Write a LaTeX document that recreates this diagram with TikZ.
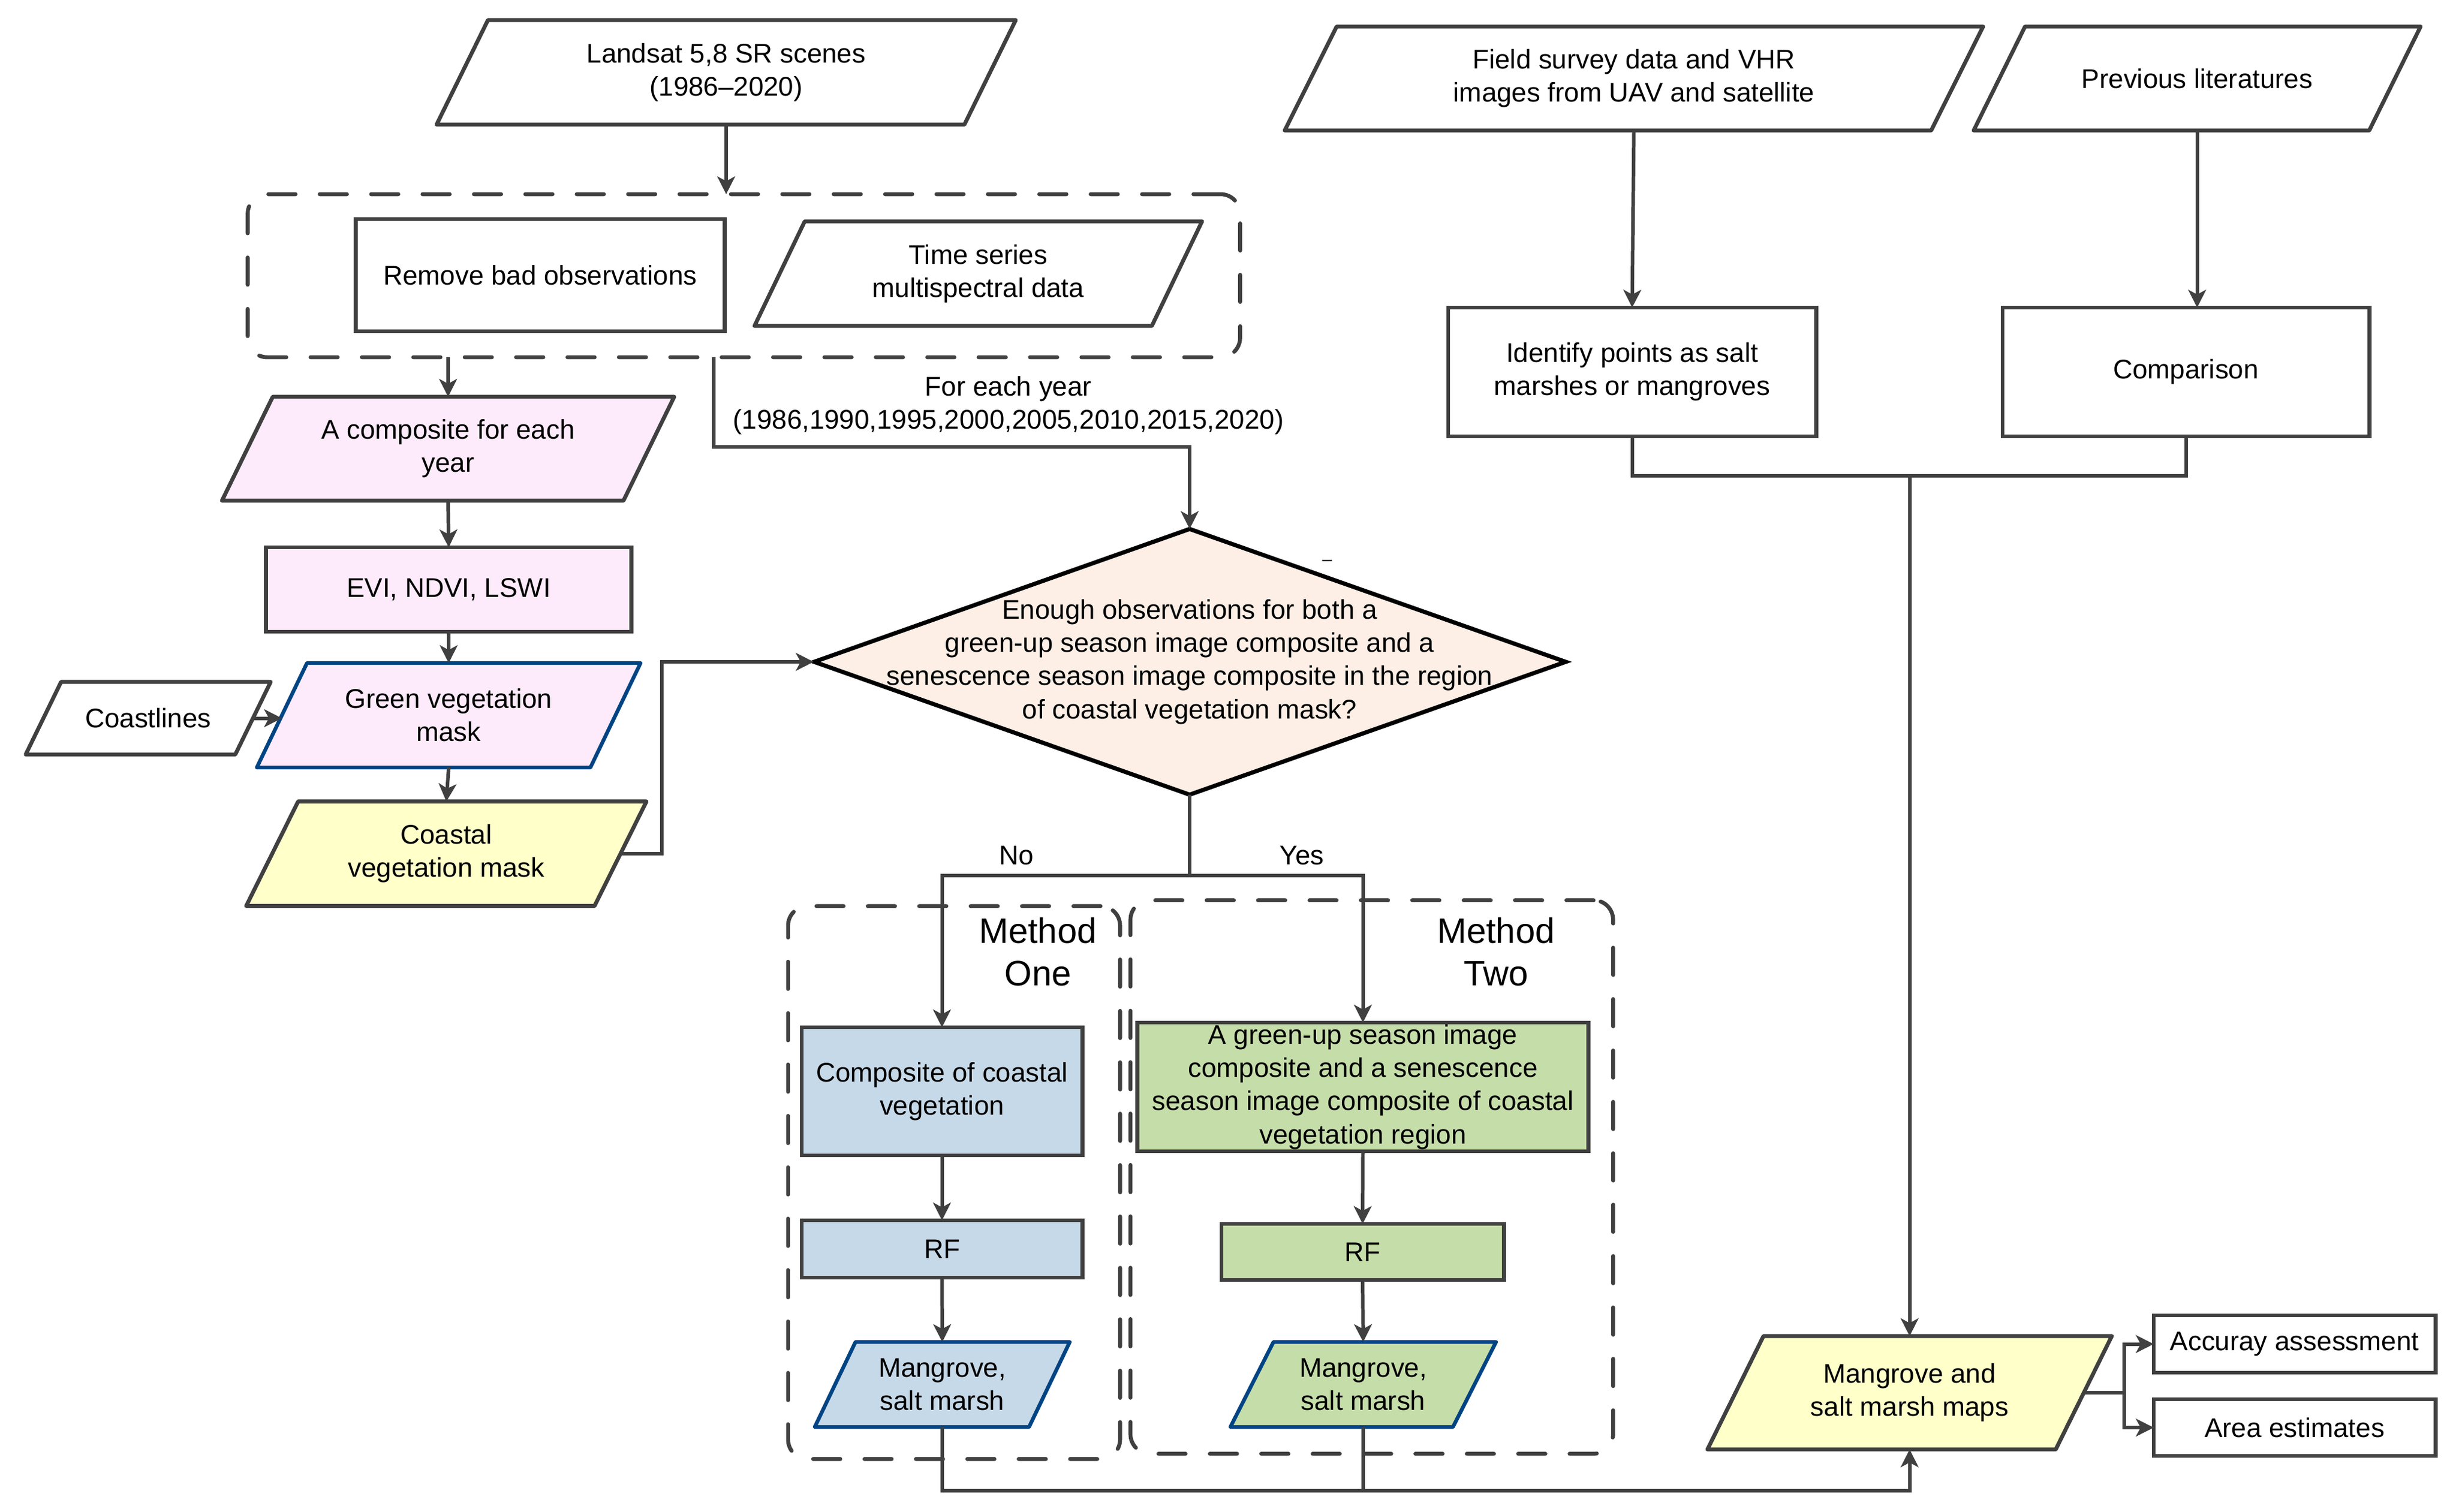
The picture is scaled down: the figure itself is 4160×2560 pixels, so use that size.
\documentclass[tikz,border=0pt]{standalone}
\usepackage{fontspec}
\setmainfont{Liberation Sans}
\usetikzlibrary{arrows.meta,calc}
\definecolor{lc}{HTML}{404040}
\definecolor{blueL}{HTML}{004483}
\definecolor{pinkF}{HTML}{FDEBFC}
\definecolor{yelF}{HTML}{FFFFC9}
\definecolor{bluF}{HTML}{C6D9E8}
\definecolor{grnF}{HTML}{C5DDA9}
\definecolor{peachF}{HTML}{FDEFE5}
\newcommand\pgram[8]{%
  \filldraw[#7] (#2-#4/2+#6/2,#3-#5/2) -- (#2+#4/2+#6/2,#3-#5/2) -- (#2+#4/2-#6/2,#3+#5/2) -- (#2-#4/2-#6/2,#3+#5/2) -- cycle;
  \node[txt,minimum width=#4*0.01cm,minimum height=#5*0.01cm] (#1) at (#2,#3) {#8};
}
\begin{document}
\begin{tikzpicture}[x=0.01cm,y=-0.01cm,
  txt/.style={align=center,inner sep=0pt,outer sep=0pt,font=\fontsize{13}{16}\selectfont,text=black},
  pbase/.style={draw=lc,line width=1.9pt,line join=round},
  pblue/.style={draw=blueL,line width=1.8pt,line join=round},
  box/.style={txt,draw=lc,line width=1.9pt,fill=white},
  wire/.style={draw=lc,line width=1.7pt},
  arr/.style={wire,-{Stealth[length=0.3cm,width=0.3cm,inset=0.08cm]}},
  dbox/.style={draw=lc,line width=1.9pt,line cap=round,dash pattern=on 0.46cm off 0.41cm,rounded corners=0.33cm,inner sep=0pt,outer sep=0pt},
  mlab/.style={txt,font=\fontsize{17}{20.4}\selectfont}
]
\useasboundingbox (0,0) rectangle (4160,2560);
% dashed groups
\node[dbox,minimum width=16.8cm,minimum height=2.76cm] (d1) at (1260,467) {};
\node[dbox,minimum width=5.62cm,minimum height=9.36cm] (m1) at (1616,2003) {};
\node[dbox,minimum width=8.17cm,minimum height=9.37cm] (m2) at (2323.5,1993.5) {};
\node[mlab] (mo) at (1758,1612) {Method\\One};
\node[mlab] (mt) at (2534,1612) {Method\\Two};
% parallelograms
\pgram{ls}{1230}{122.5}{894}{177}{87}{pbase,fill=white}{Landsat 5,8 SR scenes\\(1986–2020)}
\pgram{ts}{1657}{463.5}{673}{177}{85}{pbase,fill=white}{Time series\\multispectral data}
\pgram{ac}{759}{760}{680}{176}{86}{pbase,fill=pinkF}{A composite for each\\year}
\pgram{gv}{760}{1211.5}{565}{177}{85}{pblue,fill=pinkF}{Green vegetation\\mask}
\pgram{cl}{251}{1216.5}{355}{123}{60}{pbase,fill=white}{Coastlines}
\pgram{cv}{756}{1446}{590}{177}{88}{pbase,fill=yelF}{Coastal\\vegetation mask}
\pgram{mg1}{1596}{2345}{363}{144}{69}{pblue,fill=bluF}{Mangrove,\\salt marsh}
\pgram{mg2}{2309}{2345}{377}{144}{73}{pblue,fill=grnF}{Mangrove,\\salt marsh}
\pgram{mp}{3234.5}{2359}{590}{192}{95}{pbase,fill=yelF}{Mangrove and\\salt marsh maps}
\pgram{fs}{2767.5}{133}{1095}{176}{88}{pbase,fill=white}{Field survey data and VHR\\images from UAV and satellite}
\pgram{pl}{3721.5}{133}{670}{176}{87}{pbase,fill=white}{Previous literatures}
% rectangles
\node[box,minimum width=6.24cm,minimum height=1.9cm] (rb) at (915,466) {Remove bad observations};
\node[box,fill=pinkF,minimum width=6.18cm,minimum height=1.43cm] (evi) at (760,998.5) {EVI, NDVI, LSWI};
\node[box,fill=bluF,minimum width=4.75cm,minimum height=2.17cm] (cc) at (1595.5,1848.5) {Composite of coastal\\vegetation};
\node[box,fill=bluF,minimum width=4.75cm,minimum height=0.97cm] (rf1) at (1595.5,2115.5) {RF};
\node[box,fill=grnF,minimum width=7.63cm,minimum height=2.18cm] (gs) at (2308.5,1841) {A green-up season image\\composite and a senescence\\season image composite of coastal\\vegetation region};
\node[box,fill=grnF,minimum width=4.78cm,minimum height=0.95cm] (rf2) at (2308,2120.5) {RF};
\node[box,minimum width=6.23cm,minimum height=2.18cm] (id) at (2764.5,630) {Identify points as salt\\marshes or mangroves};
\node[box,minimum width=6.21cm,minimum height=2.18cm] (cp) at (3702.5,630) {Comparison};
\node[box,minimum width=4.77cm,minimum height=0.97cm] (aa) at (3886.5,2276.5) {Accuray assessment};
\node[box,minimum width=4.77cm,minimum height=0.96cm] (ae) at (3886.5,2418) {Area estimates};
% decision
\filldraw[draw=black,line width=2pt,fill=peachF] (1379,1121) -- (2015,896) -- (2652,1121) -- (2015,1346) -- cycle;
\node[txt,minimum width=12.73cm,minimum height=4.5cm] (dia) at (2015,1121) {Enough observations for both a\\green-up season image composite and a\\senescence season image composite in the region\\of coastal vegetation mask?};
\node[txt,font=\fontsize{8.5}{10}\selectfont] (sd) at (2248,953) {–};
% connectors
\draw[arr] (ls.south) -- (ls.south |- d1.north);
\draw[arr] (ac.north |- d1.south) -- (ac.north);
\coordinate (fy) at (1209,605);
\draw[arr] (fy) -- ++(0,152) -| (dia.north);
\node[txt] (fey) at (1708,687) {For each year\\(1986,1990,1995,2000,2005,2010,2015,2020)};
\draw[arr] (ac.south) -- (evi.north);
\draw[arr] (evi.south) -- (gv.north);
\draw[arr] (gv.south) -- (cv.north);
\draw[arr] (cl.east) -- (cl.east -| gv.west);
\draw[arr] (cv.east) -- ++(70,0) |- (dia.west);
\draw[wire] (dia.south) -- ++(0,137) coordinate (sp);
\draw[arr] (sp) -| (cc.north);
\draw[arr] (sp) -| (gs.north);
\node[txt] (no) at (1722,1449) {No};
\node[txt] (yes) at (2205,1449) {Yes};
\draw[arr] (cc.south) -- (rf1.north);
\draw[arr] (rf1.south) -- (mg1.north);
\draw[arr] (gs.south) -- (rf2.north);
\draw[arr] (rf2.south) -- (mg2.north);
\coordinate (bl) at ($(mp.south)+(0,70)$);
\draw[arr] (mg1.south) |- (bl) -- (mp.south);
\draw[wire] (mg2.south) -- (mg2.south |- bl);
\draw[arr] (fs.south) -- (id.north);
\draw[arr] (pl.south) -- (pl.south |- cp.north);
\draw[wire] (id.south) -- ++(0,67) -| (cp.south);
\coordinate (jn) at ($(id.south)+(0,67)$);
\draw[arr] (mp.north |- jn) -- (mp.north);
\draw[arr] (mp.east) -- ++(68,0) coordinate (fk) |- (aa.west);
\draw[arr] (fk) |- (ae.west);
\end{tikzpicture}
\end{document}
